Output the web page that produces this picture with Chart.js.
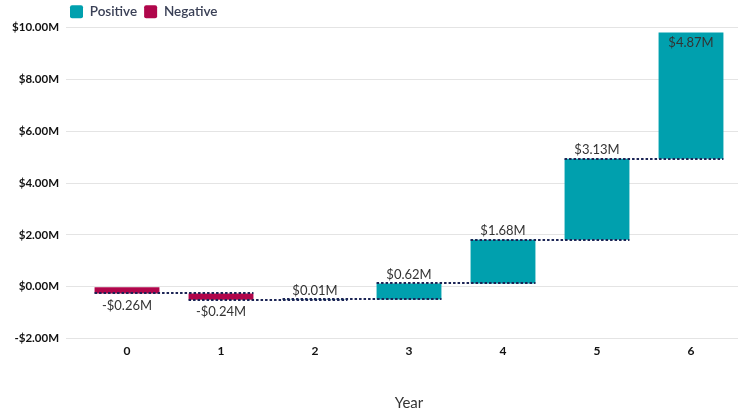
<!DOCTYPE html>
<html>
<head>
<meta charset="utf-8">
<script src="https://cdn.jsdelivr.net/npm/chart.js@4.4.1/dist/chart.umd.min.js"></script>
<style>
  html, body { margin: 0; padding: 0; background: #fff; }
  #wrap { width: 738px; height: 413px; position: relative; }
</style>
</head>
<body>
<div id="wrap"><canvas id="c"></canvas></div>
<script>
// Yearly cash-flow changes, in millions of dollars
const years = ['0', '1', '2', '3', '4', '5', '6'];
const changes = [-0.26, -0.24, 0.01, 0.62, 1.68, 3.13, 4.87];
const yMin = -2, yMax = 10, yStep = 2;

const POS = '#00a0ae';
const NEG = '#b0064b';
const LINK = '#1b2455';

// running totals: each bar floats from the previous total to the new one
const starts = [], ends = [];
let run = 0;
changes.forEach(c => { starts.push(run); run = +(run + c).toFixed(2); ends.push(run); });

const posBars = changes.map((c, i) => c >= 0 ? [starts[i], ends[i]] : null);
const negBars = changes.map((c, i) => c < 0 ? [starts[i], ends[i]] : null);

const money = v => (v < 0 ? '-' : '') + '$' + Math.abs(v).toFixed(2) + 'M';

// start the legend row in line with the plot rather than the page edge
const legendIndent = {
  id: 'legendIndent',
  afterLayout(chart) {
    const lg = chart.legend;
    if (!lg) return;
    lg.left = 63;
    lg.top += 1;
    lg.bottom += 1;
  }
};

// dotted links between consecutive totals, plus the value label of each bar
const waterfallDecor = {
  id: 'waterfallDecor',
  afterDatasetsDraw(chart) {
    const ctx = chart.ctx;
    const y = chart.scales.y;
    const area = chart.chartArea;
    const el = i => {
      const ds = changes[i] >= 0 ? 0 : 1;
      return chart.getDatasetMeta(ds).data[i];
    };
    ctx.save();
    ctx.strokeStyle = LINK;
    ctx.lineWidth = 2;
    ctx.setLineDash([2.5, 2]);
    for (let i = 0; i < changes.length - 1; i++) {
      const a = el(i), b = el(i + 1);
      const yy = Math.round(y.getPixelForValue(ends[i]));
      ctx.beginPath();
      ctx.moveTo(a.x - a.width / 2, yy);
      ctx.lineTo(b.x + b.width / 2, yy);
      ctx.stroke();
    }
    ctx.setLineDash([]);
    ctx.fillStyle = '#333333';
    ctx.font = '13px Lato';
    ctx.textAlign = 'center';
    ctx.textBaseline = 'middle';
    changes.forEach((c, i) => {
      const e = el(i);
      const top = y.getPixelForValue(Math.max(starts[i], ends[i]));
      const bottom = y.getPixelForValue(Math.min(starts[i], ends[i]));
      let ty;
      if (c >= 0) {
        ty = top - 9;
        if (ty - 7 < area.top) ty = top + 10;
      } else {
        ty = bottom + 12;
      }
      ctx.fillText(money(c), e.x, ty);
    });
    ctx.restore();
  }
};

new Chart(document.getElementById('c'), {
  type: 'bar',
  data: {
    labels: years,
    datasets: [
      { label: 'Positive', data: posBars, backgroundColor: POS, borderWidth: 0, grouped: false },
      { label: 'Negative', data: negBars, backgroundColor: NEG, borderWidth: 0, grouped: false }
    ]
  },
  options: {
    responsive: true,
    maintainAspectRatio: false,
    animation: false,
    barPercentage: 0.69,
    categoryPercentage: 1,
    layout: { padding: { left: 10, right: 0, top: -3, bottom: 1 } },
    plugins: {
      legend: {
        position: 'top',
        align: 'start',
        labels: {
          boxWidth: 13,
          boxHeight: 13,
          padding: 7,
          useBorderRadius: true,
          borderRadius: 2,
          color: '#3a4056',
          font: { family: 'Lato', size: 13.5, weight: '600' }
        }
      },
      tooltip: { enabled: false }
    },
    scales: {
      x: {
        grid: { display: false, drawTicks: false },
        border: { display: false },
        ticks: { color: '#111', padding: 5, font: { family: 'Lato', size: 12, weight: 'bold' } },
        title: {
          display: true,
          text: 'Year',
          color: '#333',
          padding: { top: 31, bottom: 0 },
          font: { family: 'Lato', size: 15 }
        }
      },
      y: {
        min: yMin,
        max: yMax,
        border: { display: false },
        grid: { color: '#e4e4e4', tickColor: '#e4e4e4', tickLength: 14, lineWidth: 1 },
        ticks: {
          stepSize: yStep,
          padding: 7,
          color: '#111',
          font: { family: 'Lato', size: 11.5, weight: 'bold' },
          callback: v => money(v)
        },
        afterFit: s => { s.width = 70; }
      }
    }
  },
  plugins: [legendIndent, waterfallDecor]
});
</script>
</body>
</html>
